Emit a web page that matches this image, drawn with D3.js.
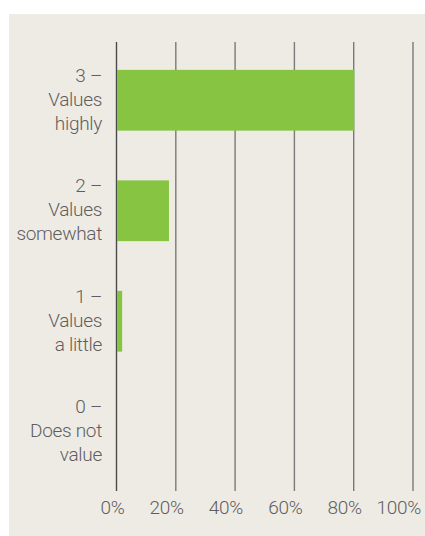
<!DOCTYPE html>
<html>
<head>
<meta charset="utf-8">
<script src="https://cdn.jsdelivr.net/npm/d3@7"></script>
<style>
  html, body { margin: 0; padding: 0; background: #fff; }
  svg { display: block; }
  text { font-family: Roboto, "DejaVu Sans", sans-serif; font-weight: 300; fill: #5e5e5e; }
</style>
</head>
<body>
<div id="chart"></div>
<script>
(function() {
  'use strict';

  // categories, top to bottom (label lines)
  var categories = ['3', '2', '1', '0'];
  var categoryLines = [
    ['3 \u2013', 'Values', 'highly'],
    ['2 \u2013', 'Values', 'somewhat'],
    ['1 \u2013', 'Values', 'a little'],
    ['0 \u2013', 'Does not', 'value']
  ];
  var shares = [80.2, 17.7, 1.9, 0];
  var tickValues = [0, 20, 40, 60, 80, 100];

  var width = 425, height = 536;

  var svg = d3.select('#chart')
    .append('svg')
      .attr('width', width)
      .attr('height', height);

  // panel
  svg.append('rect')
    .attr('x', 9)
    .attr('y', 14)
    .attr('width', width - 9)
    .attr('height', height - 14)
    .attr('fill', '#eeebe5');

  var x = d3.scaleLinear()
    .domain([0, 100])
    .range([116.5, 413]);

  var y = d3.scaleBand()
    .domain(categories)
    .range([45, 487])
    .paddingInner(0.45)
    .paddingOuter(0.225);

  var gridTop = 42, gridBottom = 491;

  // grid
  svg.append('g')
    .selectAll('line')
    .data(tickValues)
    .join('line')
      .attr('x1', function(d) { return x(d); })
      .attr('x2', function(d) { return x(d); })
      .attr('y1', gridTop)
      .attr('y2', gridBottom)
      .attr('stroke', function(d) { return d === 0 ? '#4a4a4a' : '#7a7a7a'; })
      .attr('stroke-width', 1.4);

  // bars
  svg.append('g')
    .selectAll('rect')
    .data(shares)
    .join('rect')
      .attr('x', x(0) + 0.5)
      .attr('y', function(d, i) { return y(categories[i]); })
      .attr('width', function(d) { return Math.max(0, x(d) - x(0) - 0.5); })
      .attr('height', y.bandwidth())
      .attr('fill', '#86c441');

  // x tick labels (right-aligned just past each gridline, as in the original)
  svg.append('g')
    .selectAll('text')
    .data(tickValues)
    .join('text')
      .attr('x', function(d) { return x(d) + 8; })
      .attr('y', 514)
      .attr('text-anchor', 'end')
      .style('font-size', '19px')
      .style('letter-spacing', '-0.3px')
      .text(function(d) { return d + '%'; });

  // category labels
  var labels = svg.append('g')
    .selectAll('text')
    .data(categoryLines)
    .join('text')
      .attr('text-anchor', 'end')
      .style('font-size', '19px')
      .style('letter-spacing', '-0.3px')
      .attr('y', function(d, i) { return y(categories[i]) + y.bandwidth() / 2; });

  labels.selectAll('tspan')
    .data(function(d) { return d; })
    .join('tspan')
      .attr('x', 102)
      .attr('dy', function(d, j) { return j === 0 ? '-18.5' : '24'; })
      .text(function(d) { return d; });
})();
</script>
</body>
</html>
